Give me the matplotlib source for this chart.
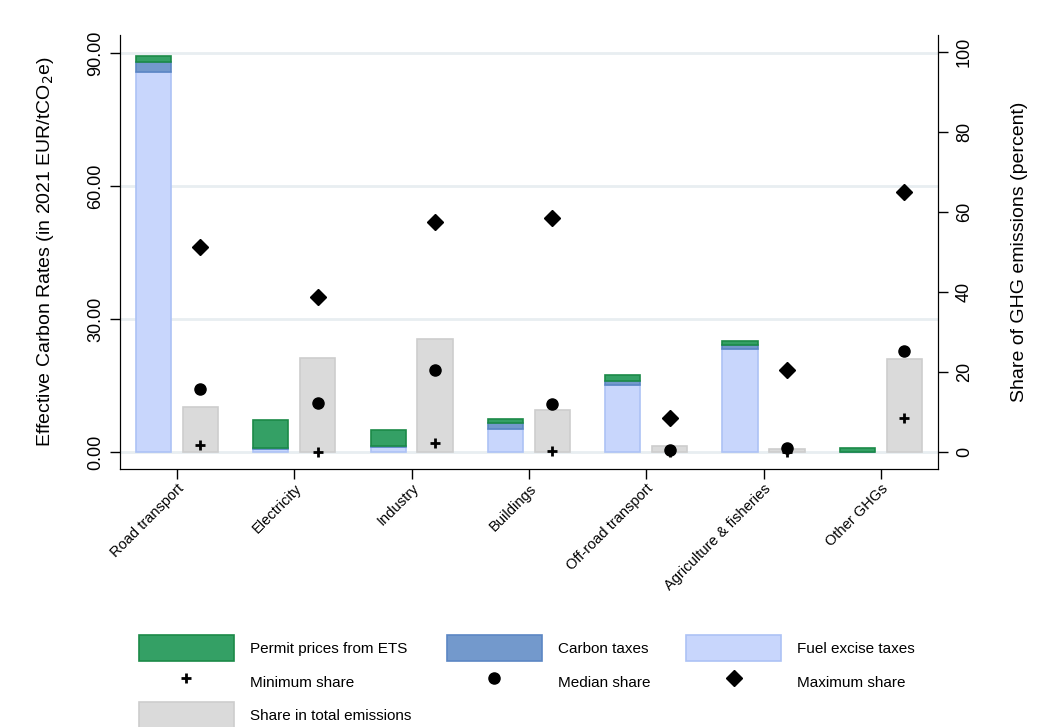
import numpy as np
import matplotlib.pyplot as plt
from matplotlib.patches import Patch
from matplotlib.lines import Line2D

plt.rcParams['font.family'] = ['Liberation Sans', 'DejaVu Sans']

# Sectors and values
sectors = ['Road transport', 'Electricity', 'Industry', 'Buildings',
           'Off-road transport', 'Agriculture & fisheries', 'Other GHGs']

# Effective carbon rates, EUR/tCO2e (stacked)
fuel_excise = [85.6, 0.7, 1.2, 5.1, 15.0, 23.2, 0.0]
carbon_tax = [2.4, 0.1, 0.1, 1.4, 0.9, 0.9, 0.0]
ets_price = [1.3, 6.4, 3.7, 0.9, 1.5, 0.9, 0.9]

# Share of GHG emissions, percent
share_total = [11.3, 23.4, 28.2, 10.5, 1.5, 0.75, 23.2]
share_min = [1.8, 0.0, 2.3, 0.3, 0.0, 0.0, 8.4]
share_median = [15.7, 12.2, 20.5, 12.0, 0.5, 0.9, 25.3]
share_max = [51.3, 38.8, 57.6, 58.5, 8.6, 20.4, 65.0]

c_ets, e_ets = '#34a065', '#1b8a48'
c_ctax, e_ctax = '#7399cc', '#5b86c4'
c_fuel, e_fuel = '#c8d6fc', '#adc2f5'
c_share, e_share = '#dadada', '#cdcdcd'

x = np.arange(len(sectors))
w = 0.3
off = 0.2

fig = plt.figure(figsize=(10.51, 7.27), dpi=100)
ax = fig.add_axes([0.114, 0.355, 0.7785, 0.597])

fuel = np.array(fuel_excise)
ctax = np.array(carbon_tax)
ets = np.array(ets_price)

ax.bar(x - off, fuel, w, color=c_fuel, edgecolor=e_fuel, linewidth=1.2, zorder=2)
ax.bar(x - off, ctax, w, bottom=fuel, color=c_ctax, edgecolor=e_ctax, linewidth=1.2, zorder=2)
ax.bar(x - off, ets, w, bottom=fuel + ctax, color=c_ets, edgecolor=e_ets, linewidth=1.2, zorder=2)

ax.set_xlim(-0.487, len(sectors) - 1 + 0.487)
ax.set_ylim(-3.83, 94.06)
ax.set_yticks([0, 30, 60, 90])
ax.set_yticklabels(['0.00', '30.00', '60.00', '90.00'], rotation=90, va='center', fontsize=13)
ax.yaxis.grid(True, color='#e8eef1', linewidth=2, zorder=0)
ax.set_axisbelow(True)
ax.set_ylabel('Effective Carbon Rates (in 2021 EUR/tCO$_2$e)', fontsize=14, labelpad=23)

ax.set_xticks(x)
ax.set_xticklabels(sectors, rotation=45, ha='right', rotation_mode='anchor', fontsize=10.5)
ax.tick_params(axis='x', length=7, width=1, pad=2)
ax.tick_params(axis='y', length=7, width=1, pad=4)
ax.spines['top'].set_visible(False)

ax2 = ax.twinx()
ax2.bar(x + off, share_total, w, color=c_share, edgecolor=e_share, linewidth=1.2, zorder=2)
ax2.plot(x + off, share_min, linestyle='none', marker='+', color='black', ms=7, mew=2, zorder=3)
ax2.plot(x + off, share_median, linestyle='none', marker='o', color='black', ms=8, zorder=3)
ax2.plot(x + off, share_max, linestyle='none', marker='D', color='black', ms=8, zorder=3)
ax2.set_ylim(-4.25, 104.25)
ax2.set_yticks([0, 20, 40, 60, 80, 100])
ax2.set_yticklabels(['0', '20', '40', '60', '80', '100'], rotation=90, va='center', fontsize=13)
ax2.tick_params(axis='y', length=7, width=1, pad=6)
ax2.set_ylabel('Share of GHG emissions (percent)', fontsize=14, labelpad=27)
ax2.spines['top'].set_visible(False)

handles = [
    Patch(facecolor=c_ets, edgecolor=e_ets, linewidth=1.2),
    Line2D([], [], linestyle='none', marker='+', color='black', ms=7, mew=2),
    Patch(facecolor=c_share, edgecolor=e_share, linewidth=1.2),
    Patch(facecolor=c_ctax, edgecolor=e_ctax, linewidth=1.2),
    Line2D([], [], linestyle='none', marker='o', color='black', ms=8),
    Patch(facecolor=c_fuel, edgecolor=e_fuel, linewidth=1.2),
    Line2D([], [], linestyle='none', marker='D', color='black', ms=8),
]
labels = ['Permit prices from ETS', 'Minimum share', 'Share in total emissions',
          'Carbon taxes', 'Median share', 'Fuel excise taxes', 'Maximum share']
fig.legend(handles, labels, ncol=3, loc='upper left',
           bbox_to_anchor=(139 / 1051, 1 - 635 / 727), bbox_transform=fig.transFigure,
           frameon=False, fontsize=11,
           handlelength=6.2, handleheight=2.25, handletextpad=1.05,
           columnspacing=2.35, labelspacing=0.5, borderpad=0, borderaxespad=0)

fig.savefig('out.png', dpi=100)
